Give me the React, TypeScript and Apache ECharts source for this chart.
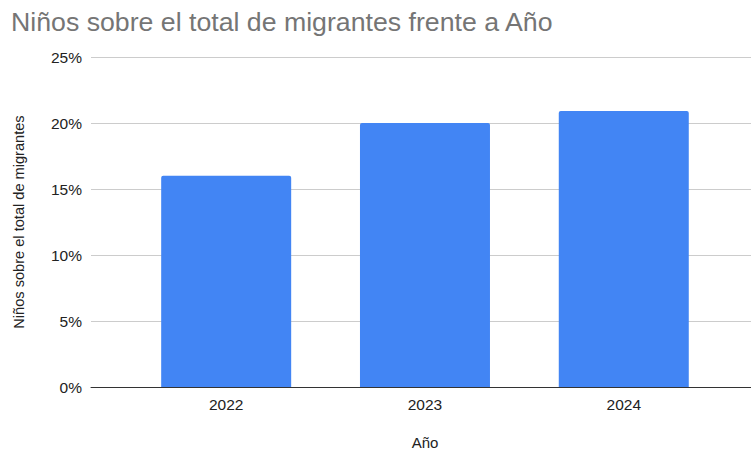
import React, { useEffect, useRef } from "react";
import * as echarts from "echarts";

const years = [2022, 2023, 2024];
const childShare = [16.0, 20.0, 20.9];
const yTicks = [0, 5, 10, 15, 20, 25];

const FONT = "'Liberation Sans', Arial, Helvetica, sans-serif";

export default function App() {
  const ref = useRef<HTMLDivElement>(null);
  useEffect(() => {
    if (!ref.current) return;
    const chart = echarts.init(ref.current, undefined, { renderer: "svg" });
    chart.setOption({
      animation: false,
      textStyle: { fontFamily: FONT },
      title: {
        text: "Niños sobre el total de migrantes frente a Año",
        left: 6,
        top: 3,
        textStyle: { fontFamily: FONT, fontSize: 26.7, fontWeight: "normal", color: "#757575" },
      },
      grid: { left: 91, right: 0, top: 57, bottom: 65, outerBoundsMode: "none", containLabel: false },
      xAxis: {
        type: "value",
        min: 2021.32,
        max: 2024.64,
        name: "Año",
        nameLocation: "middle",
        nameGap: 48,
        nameTextStyle: { fontFamily: FONT, fontSize: 15, color: "#222", padding: [0, 0, 0, 8] },
        axisLine: { show: true, lineStyle: { color: "#333", width: 1 } },
        axisTick: { show: false },
        splitLine: { show: false },
        axisLabel: {
          customValues: years,
          margin: 9,
          fontFamily: FONT,
          fontSize: 15.5,
          color: "#222",
          formatter: (v: number) => String(v),
        },
      },
      yAxis: {
        type: "value",
        min: 0,
        max: 25,
        interval: 5,
        name: "Niños sobre el total de migrantes",
        nameLocation: "middle",
        nameGap: 65,
        nameTextStyle: { fontFamily: FONT, fontSize: 14.6, color: "#222" },
        axisLine: { show: false },
        axisTick: { show: false },
        splitLine: { lineStyle: { color: "#cccccc", width: 1 } },
        axisLabel: {
          customValues: yTicks,
          margin: 9,
          fontFamily: FONT,
          fontSize: 15.5,
          color: "#222",
          formatter: (v: number) => `${v}%`,
        },
      },
      series: [
        {
          type: "bar",
          data: years.map((y, i) => [y, childShare[i]]),
          barWidth: 130,
          itemStyle: { color: "#4285F4", borderRadius: [2, 2, 0, 0] },
        },
      ],
    });
    return () => chart.dispose();
  }, []);
  return (
    <div
      ref={ref}
      style={{ position: "absolute", left: 0, top: 0, width: 751, height: 452 }}
    />
  );
}
